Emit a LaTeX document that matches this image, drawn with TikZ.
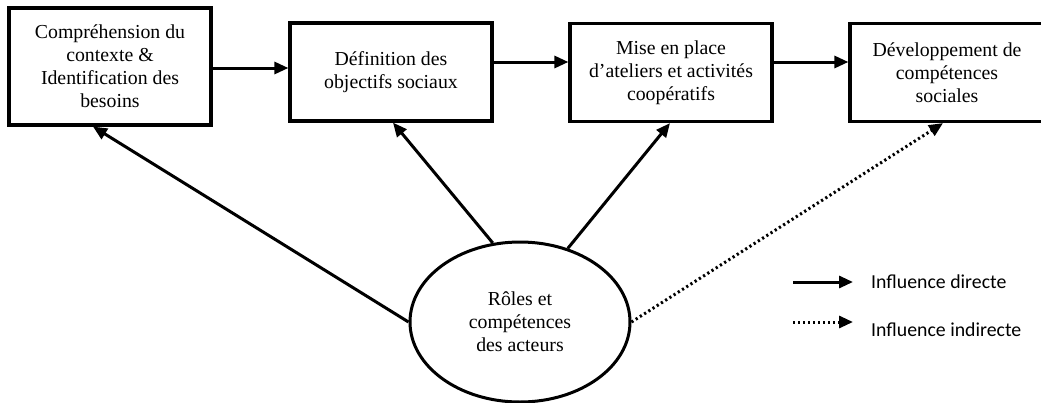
\documentclass[tikz,border=0pt]{standalone}
\usepackage{fontspec}
\setmainfont{Liberation Serif}
\newfontfamily\legendfont{Carlito}
\usetikzlibrary{arrows.meta,shapes.geometric}

\tikzset{
  stepbox/.style={draw, line width=3.2pt, align=center, inner sep=0pt,
    minimum width=202pt, minimum height=98pt,
    font=\fontsize{19.8}{23}\selectfont},
  actors/.style={draw, ellipse, line width=3pt, align=center, inner sep=0pt,
    minimum width=220pt, minimum height=160pt,
    font=\fontsize{19.8}{23}\selectfont},
  direct/.style={line width=3pt, -{Triangle[length=14pt,width=12pt]}},
  indirect/.style={line width=3pt, dash pattern=on 2.2pt off 2.8pt,
    -{Triangle[length=14pt,width=12pt]}},
  legendtext/.style={anchor=west, inner sep=0pt,
    font=\legendfont\fontsize{19.8}{23}\selectfont}
}

\begin{document}
\begin{tikzpicture}[x=1pt,y=-1pt]
  \useasboundingbox (0,0) rectangle (1041,402);

  % process steps
  \node[stepbox, minimum height=117pt] (b1) at (110,66.5)
    {Compréhension du\\contexte \&\\Identification des\\besoins};
  \node[stepbox] (b2) at (391,72) {Définition des\\objectifs sociaux};
  \node[stepbox] (b3) at (671,72.5)
    {Mise en place\\d’ateliers et activités\\coopératifs};
  \node[stepbox, minimum width=194pt] (b4) at (947,72.5)
    {Développement de\\compétences\\sociales};

  % actors
  \node[actors] (e) at (520,322) {Rôles et\\compétences\\des acteurs};

  % sequence of steps
  \draw[direct] (b1.east |- 0,68) -- (b2.west |- 0,68);
  \draw[direct] (b2.east |- 0,62) -- (b3.west |- 0,62);
  \draw[direct] (b3.east |- 0,62) -- (b4.west |- 0,62);

  % influence of the actors
  \draw[direct] (e.180) -- (93,0 |- b1.south);
  \draw[direct] (e.109) -- (393,0 |- b2.south);
  \draw[direct] (e.57) -- (670,0 |- b3.south);
  \draw[indirect] (e.0) -- (943,0 |- b4.south);

  % legend
  \coordinate (l1a) at (793,282);
  \coordinate (l1b) at (853,282);
  \coordinate (l2a) at (793,322);
  \coordinate (l2b) at (853,322);
  \draw[direct] (l1a) -- (l1b);
  \draw[indirect] (l2a) -- (l2b);
  \node[legendtext] (t1) at (871,282) {Influence directe};
  \node[legendtext] (t2) at (871,330) {Influence indirecte};
\end{tikzpicture}
\end{document}
